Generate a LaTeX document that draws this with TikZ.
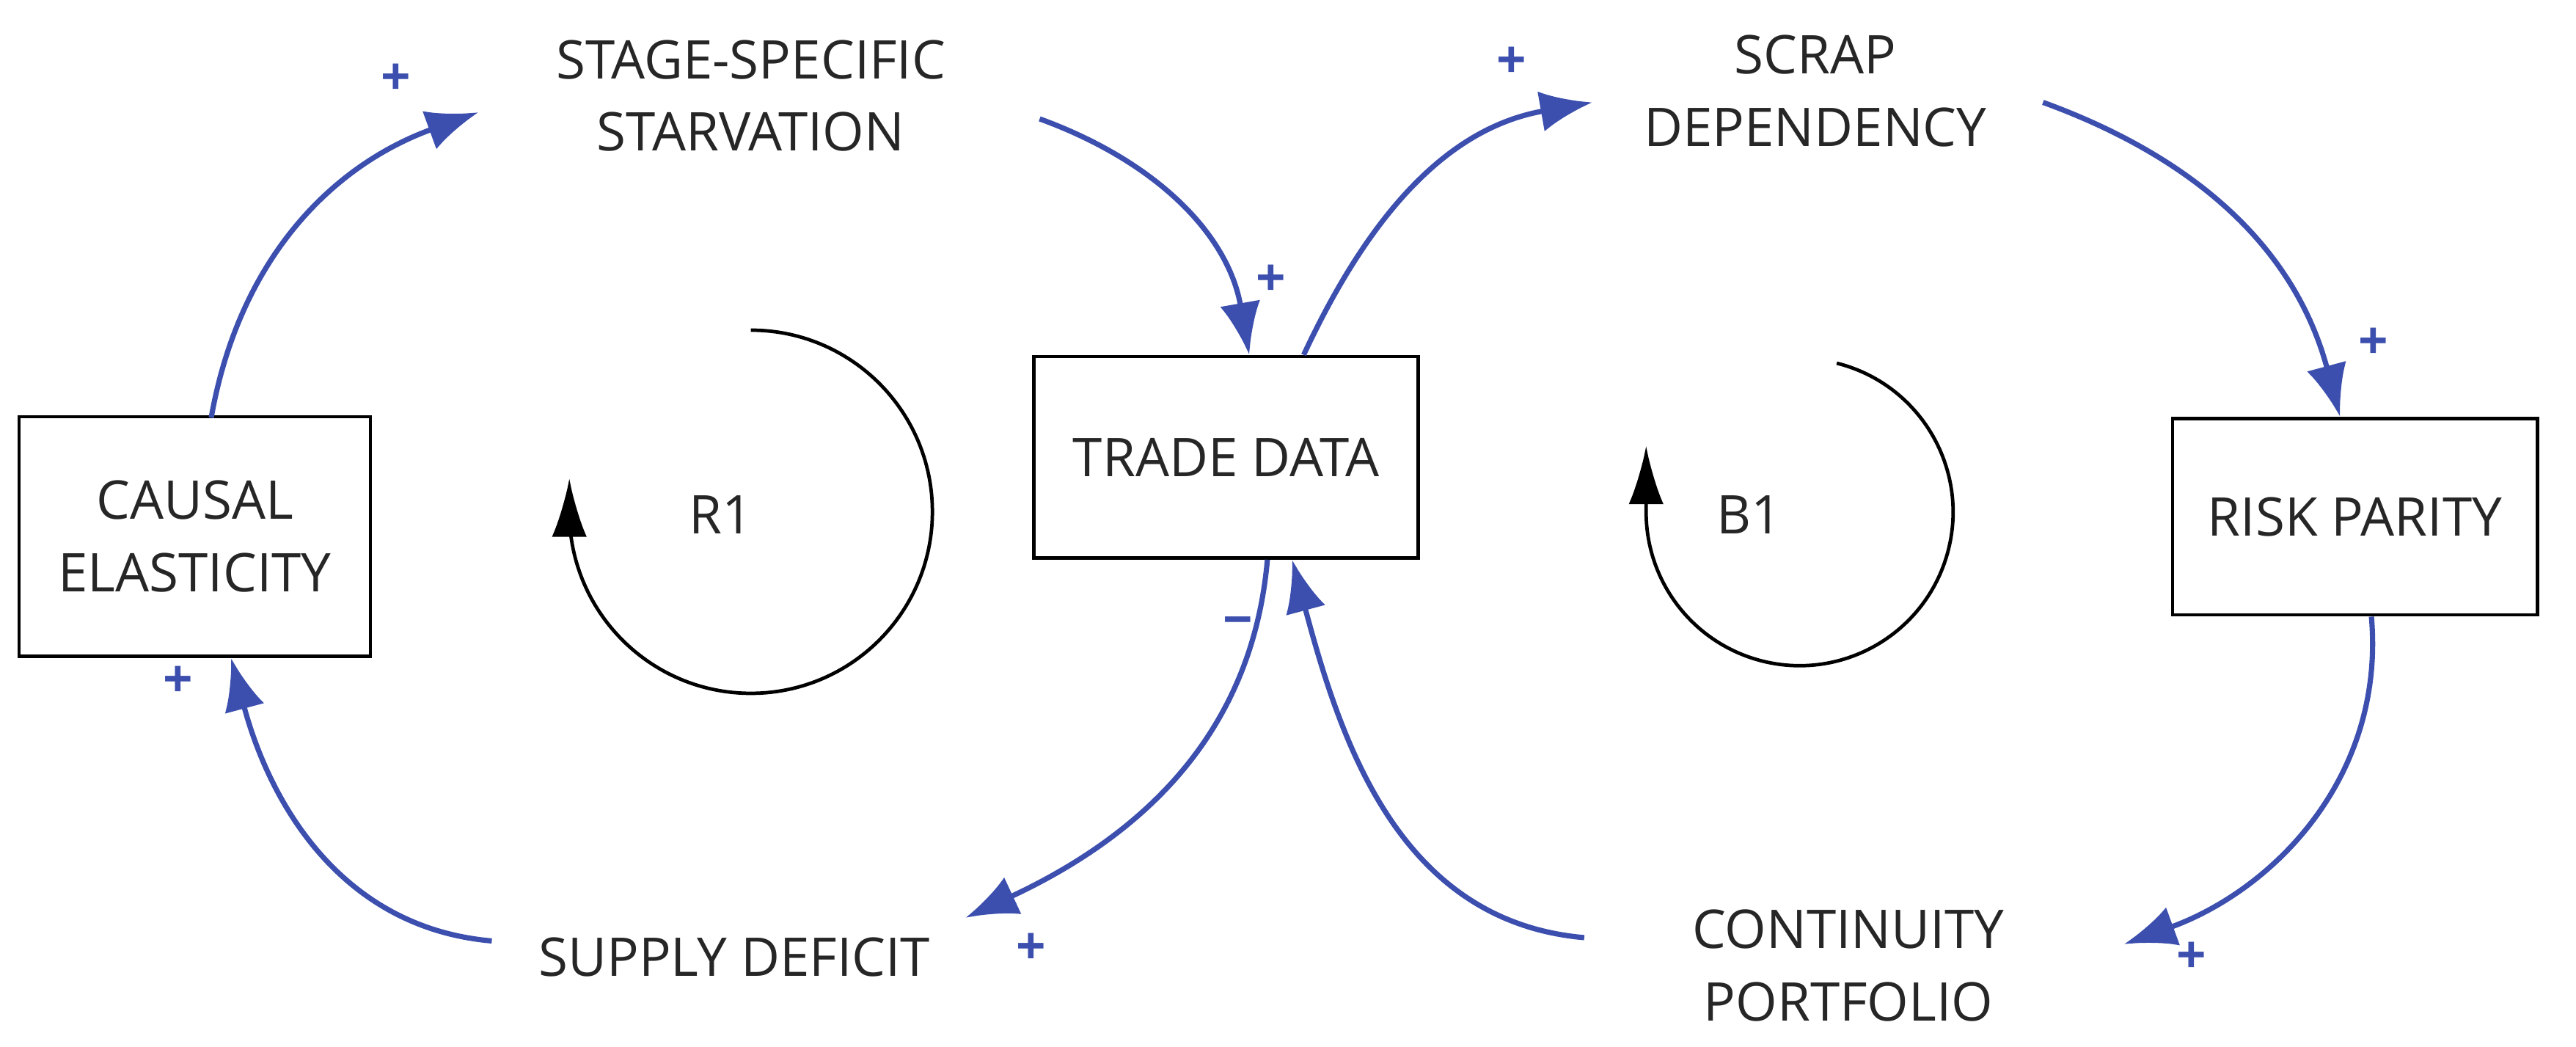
\documentclass[tikz,border=0pt]{standalone}
\usepackage{fontspec}
\setmainfont{Open Sans}
\usetikzlibrary{arrows.meta}
\definecolor{lk}{HTML}{3C4FAE}
\begin{document}
\begin{tikzpicture}[x=0.1mm,y=-0.1mm,
 every node/.style={font=\fontsize{9.2}{12.5}\selectfont,align=center,text=black!85},
 box/.style={draw,line width=0.6pt,minimum width=#1},
 lnk/.style={draw=lk,line width=0.9pt,-{Latex[length=9pt,width=7pt]}},
 sg/.style={text=lk,font=\fontsize{9}{10}\selectfont\bfseries},
 loopa/.style={line width=0.6pt,-{Latex[length=10pt,width=6pt]}}]
\useasboundingbox (0,0) rectangle (1561,634);
\node[box=21.3mm,minimum height=14.5mm] (ce) at (118,325) {CAUSAL\\ELASTICITY};
\node[box=23.3mm,minimum height=12.2mm] (td) at (743,277) {TRADE DATA};
\node[box=22.1mm,minimum height=11.9mm] (rp) at (1427,313) {RISK PARITY};
\node (ss) at (455,58) {STAGE-SPECIFIC\\STARVATION};
\node (sd) at (1100,55) {SCRAP\\DEPENDENCY};
\node (sup) at (445,580) {SUPPLY DEFICIT};
\node (cp) at (1120,585) {CONTINUITY\\PORTFOLIO};
\node (r1) at (437,312) {R1};
\node (b1) at (1060,312) {B1};
\coordinate (c1) at (128,253); \coordinate (c2) at (290,68);
\draw[lnk] (c1) to[out=80,in=200] (c2);
\coordinate (s1) at (630,72);
\draw[lnk] (s1) to[out=-20,in=100] (td.north-|757,0);
\coordinate (s2) at (965,62);
\draw[lnk] (td.north-|790,0) to[out=65,in=190] (s2);
\coordinate (k1) at (1238,62);
\draw[lnk] (k1) to[out=-20,in=105] (rp.north-|1418,0);
\coordinate (p1) at (1287,572);
\draw[lnk] (rp.south-|1437,0) to[out=-85,in=20] (p1);
\coordinate (q1) at (960,568);
\draw[lnk] (q1) to[out=175,in=-75] (td.south-|783,0);
\coordinate (u1) at (585,556);
\draw[lnk] (td.south-|768,0) to[out=-95,in=25] (u1);
\coordinate (u2) at (298,570);
\draw[lnk] (u2) to[out=175,in=-75] (ce.south-|140,0);
\node[sg] (p1s) at (240,48) {+};
\node[sg] (p2s) at (770,170) {+};
\node[sg] (p3s) at (916,38) {+};
\node[sg] (p4s) at (1438,208) {+};
\node[sg] (p5s) at (1328,580) {+};
\node[sg] (p6s) at (750,380) {\textminus};
\node[sg] (p7s) at (625,575) {+};
\node[sg] (p8s) at (108,413) {+};
\draw[loopa] (455,200) arc[start angle=-90,end angle=180,radius=110] -- ++(0,-20);
\draw[loopa] (1113,220) arc[start angle=-76,end angle=180,radius=93] -- ++(0,-40);
\end{tikzpicture}
\end{document}
